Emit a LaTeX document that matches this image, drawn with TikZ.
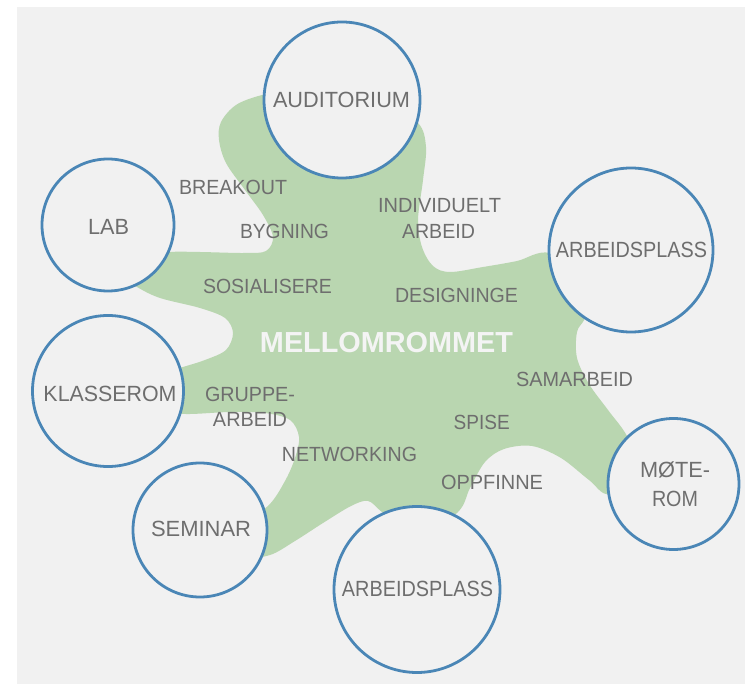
\documentclass[tikz,border=0pt]{standalone}
\usepackage{fontspec}
\usepackage{graphicx}
\setmainfont{Liberation Sans}
\definecolor{cbg}{HTML}{F1F1F1}
\definecolor{cgreen}{HTML}{B9D6B0}
\definecolor{cblue}{HTML}{4A86B6}
\definecolor{ctext}{HTML}{6E6E6E}
\definecolor{cwhite}{HTML}{F4F4F4}
\newcommand{\lbw}[2]{\resizebox{#1pt}{\height}{#2}}
\begin{document}
\begin{tikzpicture}[x=1pt,y=-1pt,
  room/.style={circle, draw=cblue, fill=cbg, line width=2.8pt, inner sep=0pt, minimum size=#1pt},
  roomtxt/.style={anchor=base, text=ctext, font=\fontsize{22}{26}\selectfont, inner sep=0pt},
  acttxt/.style={anchor=base, text=ctext, font=\fontsize{20.5}{24}\selectfont, inner sep=0pt},
  maintxt/.style={anchor=base, text=cwhite, font=\fontsize{29}{34}\selectfont\bfseries, inner sep=0pt}]
\useasboundingbox (0,0) rectangle (745,684);
\fill[white] (0,0) rectangle (745,684);
\fill[cbg] (17,7) rectangle (745,684);
% green blob
\fill[cgreen] plot[smooth cycle, tension=0.55] coordinates {
  (300,88) (262,95) (236,105) (221,122) (219,140) (226,163) (245,190) (263,215)
  (273,237) (266,251) (245,253) (200,252) (168,252) (120,256) (120,275)
  (137,287) (160,298) (200,308) (225,318) (233,333) (226,350) (205,360) (183,367)
  (150,377) (150,410) (185,414) (230,412) (265,413) (290,420) (299,437) (295,458)
  (285,481) (268,506) (235,530) (245,556) (270,555) (295,541) (323,523) (351,506)
  (368,501) (382,512) (418,540) (458,512) (470,488) (485,462) (504,449) (532,446)
  (561,458) (589,480) (609,494) (640,470) (627,436) (608,410) (589,384) (577,358)
  (577,332) (585,318) (600,280) (550,253) (517,261) (483,267) (450,272) (433,266)
  (422,247) (418,220) (423,180) (426,147) (418,123) (385,105)};
% rooms
\node[room=156] (aud) at (342,100) {};
\node[room=132] (lab) at (108,225) {};
\node[room=164] (arbR) at (631,250) {};
\node[room=151] (kla) at (108,391) {};
\node[room=134] (sem) at (200,530) {};
\node[room=166] (arbB) at (417,589.5) {};
\node[room=131] (mote) at (673.5,484) {};
% room labels
\node[roomtxt] (taud) at (341.5,108) {\lbw{137}{AUDITORIUM}};
\node[roomtxt] (tlab) at (108.5,235) {\lbw{41}{LAB}};
\node[roomtxt] (tarbR) at (631.5,258) {\lbw{151}{ARBEIDSPLASS}};
\node[roomtxt] (tkla) at (110,402) {\lbw{133}{KLASSEROM}};
\node[roomtxt] (tsem) at (201,537) {\lbw{100}{SEMINAR}};
\node[roomtxt] (tarbB) at (417.5,597) {\lbw{151}{ARBEIDSPLASS}};
\node[roomtxt] (tmote1) at (675,478) {\lbw{70}{MØTE-}};
\node[roomtxt] (tmote2) at (675,507) {\lbw{46}{ROM}};
% activities
\node[maintxt] (tmain) at (386.5,353) {\lbw{253}{MELLOMROMMET}};
\node[acttxt] (tbreak) at (233,195) {\lbw{108}{BREAKOUT}};
\node[acttxt] (tbyg) at (284.5,239) {\lbw{89}{BYGNING}};
\node[acttxt] (tind1) at (439.5,213) {\lbw{123}{INDIVIDUELT}};
\node[acttxt] (tind2) at (438.5,239) {\lbw{73}{ARBEID}};
\node[acttxt] (tsos) at (267.5,294) {\lbw{129}{SOSIALISERE}};
\node[acttxt] (tdes) at (456.5,303) {\lbw{123}{DESIGNINGE}};
\node[acttxt] (tsam) at (574.5,387) {\lbw{117}{SAMARBEID}};
\node[acttxt] (tgru1) at (250,402) {\lbw{90}{GRUPPE-}};
\node[acttxt] (tgru2) at (250,427) {\lbw{74}{ARBEID}};
\node[acttxt] (tspi) at (481.7,430) {\lbw{56}{SPISE}};
\node[acttxt] (tnet) at (349.5,462) {\lbw{135}{NETWORKING}};
\node[acttxt] (topp) at (492,490) {\lbw{102}{OPPFINNE}};
\end{tikzpicture}
\end{document}
